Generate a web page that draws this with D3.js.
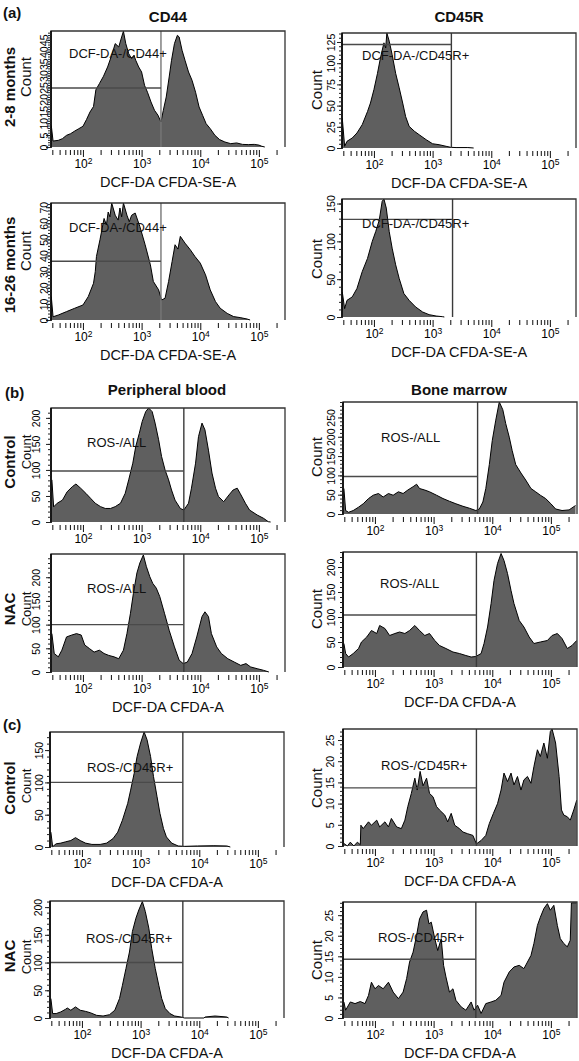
<!DOCTYPE html>
<html><head><meta charset="utf-8">
<script src="https://cdn.jsdelivr.net/npm/d3@7"></script>
<style>body{margin:0;background:#fff}svg{display:block}</style>
</head><body><svg id="c" width="579" height="1061"></svg>
<script>
// ---------- DATA (log10 fluorescence, count) ----------
const cd44Young = [[1.46,9],[1.49,2.5],[1.58,2.8],[1.65,3.5],[1.72,4.9],[1.79,5.6],[1.86,6.7],[1.93,7.7],[2.0,8.7],[2.06,11.5],[2.12,14.7],[2.18,17],[2.22,24],[2.28,26.6],[2.35,29.7],[2.42,33.6],[2.49,38.5],[2.55,43.4],[2.61,42],[2.66,46.2],[2.69,48.6],[2.73,43.4],[2.78,39.2],[2.83,37.1],[2.87,38.5],[2.9,36.4],[2.95,33.6],[3.0,31.5],[3.05,25.9],[3.1,23],[3.16,18.9],[3.22,15.4],[3.28,13.3],[3.33,10.5],[3.37,15.4],[3.42,21],[3.47,29.4],[3.51,36.4],[3.56,43.4],[3.61,46.9],[3.64,46.2],[3.69,40.6],[3.74,36.4],[3.8,31.5],[3.86,28],[3.92,23],[3.98,16.8],[4.04,13.3],[4.1,9.8],[4.17,7.7],[4.25,4.9],[4.33,3.1],[4.42,2.1],[4.52,1.4],[4.62,1.7],[4.72,1.1],[4.82,1],[4.92,1.1],[5.0,0.8],[5.05,0.3],[5.1,0]];
const cd45rYoung = [[1.46,35],[1.5,2],[1.54,7.9],[1.63,11.8],[1.71,17.7],[1.8,27.5],[1.89,43],[1.94,53],[2.0,69],[2.06,88],[2.11,106],[2.17,124],[2.2,118],[2.22,135.6],[2.26,126],[2.31,110],[2.37,88],[2.43,71],[2.49,53],[2.54,37],[2.6,25.5],[2.69,19.7],[2.77,15.7],[2.89,9.8],[3.0,5],[3.11,3.9],[3.23,2],[3.31,0.8],[3.4,0.5],[3.6,0.5],[3.7,0]];
const cd44Old = [[1.46,14.5],[1.49,2],[1.58,3.1],[1.72,5.2],[1.86,7.3],[2.0,9.3],[2.09,14.5],[2.18,22.8],[2.21,30],[2.23,39.4],[2.29,49.8],[2.36,63],[2.4,59],[2.43,67],[2.46,64],[2.49,72.6],[2.55,65],[2.6,62],[2.63,69.5],[2.66,64],[2.69,72.6],[2.75,65],[2.79,61],[2.83,65],[2.89,66.4],[2.97,58],[3.06,46.7],[3.15,34.2],[3.2,23.9],[3.29,18.7],[3.34,12.4],[3.4,13.5],[3.46,23.9],[3.52,36.3],[3.57,46.7],[3.62,44],[3.66,51.9],[3.74,47.7],[3.83,43.6],[3.91,39.4],[4.0,35.3],[4.09,28],[4.17,18.7],[4.26,11.4],[4.34,7.3],[4.46,4.1],[4.57,2.1],[4.68,1.5],[4.8,0.6],[4.85,0]];
const cd45rOld = [[1.46,33],[1.5,11],[1.54,22],[1.63,26.6],[1.71,37.7],[1.8,60],[1.89,77.5],[1.97,99.7],[2.03,113],[2.09,128],[2.14,153],[2.17,156],[2.21,144],[2.26,113],[2.31,91],[2.37,69],[2.43,51],[2.51,31],[2.6,22],[2.71,13.3],[2.83,6.6],[2.94,3.1],[3.06,1.3],[3.17,0.4],[3.2,0]];
const pbCtrlAll = [[1.47,81],[1.5,29],[1.56,36],[1.65,42],[1.73,58],[1.82,68],[1.88,73],[1.96,65],[2.05,55],[2.13,45.5],[2.21,36],[2.3,29.5],[2.38,26],[2.47,26],[2.55,29.5],[2.64,36],[2.72,55],[2.78,81],[2.85,113],[2.9,145],[2.96,170],[3.01,193],[3.07,212],[3.12,219],[3.18,212],[3.23,190],[3.29,158],[3.34,126],[3.4,100],[3.46,81],[3.51,61.5],[3.57,42],[3.66,26],[3.72,23],[3.8,36],[3.85,65],[3.92,113],[3.97,164],[4.03,190],[4.08,177],[4.14,138],[4.2,94],[4.26,65],[4.31,49],[4.4,39],[4.49,52],[4.56,61.5],[4.63,65],[4.68,55],[4.77,36],[4.84,23],[4.97,13.5],[5.08,7],[5.16,0.6],[5.2,0]];
const bmCtrlAll = [[1.47,66],[1.5,9],[1.55,4.4],[1.63,9],[1.72,17.7],[1.8,26.5],[1.89,40],[1.97,48.6],[2.06,53],[2.14,44],[2.23,53],[2.31,48.6],[2.4,57.5],[2.48,53],[2.56,62],[2.65,70.7],[2.71,77],[2.76,66],[2.85,62],[2.93,57.5],[3.05,48.6],[3.16,40],[3.27,33],[3.38,26.5],[3.5,20],[3.61,15],[3.72,9],[3.78,13],[3.84,31],[3.89,66],[3.95,128],[4.0,190],[4.06,243],[4.12,290],[4.18,270],[4.23,234],[4.29,199],[4.34,164],[4.4,128],[4.49,106],[4.57,88],[4.66,66],[4.74,57.5],[4.82,48.6],[4.91,40],[5.0,26.5],[5.08,13],[5.19,9],[5.31,10.6],[5.42,22]];
const pbNacAll = [[1.47,81],[1.51,39],[1.58,32],[1.64,46],[1.72,74],[1.81,78],[1.89,81],[1.97,78],[2.03,57],[2.11,49.5],[2.19,42],[2.28,46],[2.36,39],[2.44,35],[2.53,32],[2.61,28],[2.69,46],[2.75,81],[2.81,124],[2.86,166],[2.92,209],[2.97,230],[3.03,247],[3.08,223],[3.14,201],[3.19,187],[3.25,177],[3.31,159],[3.39,124],[3.47,88],[3.56,53],[3.64,25],[3.71,17.7],[3.78,21],[3.86,39],[3.94,74],[4.03,117],[4.08,127],[4.14,117],[4.19,81],[4.28,53],[4.36,39],[4.47,28],[4.58,21],[4.69,14],[4.78,17.7],[4.86,10.6],[4.97,7],[5.08,3.5],[5.17,0]];
const bmNacAll = [[1.47,47],[1.5,27],[1.55,20],[1.63,27],[1.72,37],[1.77,50],[1.86,60],[1.94,73],[2.03,67],[2.08,83],[2.17,77],[2.25,63],[2.34,67],[2.42,70],[2.51,67],[2.59,73],[2.68,83],[2.76,73],[2.85,63],[2.93,67],[3.02,53],[3.1,43],[3.21,37],[3.33,30],[3.44,27],[3.55,23],[3.64,20],[3.72,21],[3.81,27],[3.86,47],[3.92,80],[3.98,127],[4.03,173],[4.09,207],[4.15,227],[4.2,213],[4.26,187],[4.32,153],[4.37,127],[4.46,93],[4.54,80],[4.63,60],[4.71,47],[4.82,50],[4.94,53],[5.02,63],[5.11,67],[5.19,57],[5.28,37],[5.36,43],[5.44,53]];
const pbCtrlCd45r = [[1.47,23],[1.5,0.5],[1.56,5],[1.64,6],[1.72,8],[1.81,10],[1.89,14.5],[1.97,10],[2.06,6],[2.17,4],[2.31,4],[2.42,6],[2.53,13],[2.61,23],[2.69,41.5],[2.78,67.5],[2.83,88],[2.89,114],[2.94,140],[3.0,161],[3.06,178],[3.11,166],[3.17,140],[3.22,109],[3.28,78],[3.33,52],[3.39,28.5],[3.44,15.6],[3.53,6],[3.64,1.6],[3.75,1],[3.97,1.6],[4.25,2],[4.47,1.6],[4.53,0]];
const bmCtrlCd45r = [[1.47,0.6],[1.53,0],[1.58,0.9],[1.64,0],[1.7,0.9],[1.75,0.3],[1.76,4.9],[1.8,4.1],[1.89,5.7],[1.94,4.9],[2.03,6.1],[2.08,4.5],[2.17,5.7],[2.23,4.5],[2.28,6.5],[2.37,4.5],[2.45,4.1],[2.51,6.1],[2.56,9.3],[2.62,12.4],[2.68,16],[2.72,13.2],[2.77,17.6],[2.82,14.2],[2.88,16],[2.93,12.4],[2.99,11.6],[3.05,9.3],[3.1,8.5],[3.19,7.3],[3.24,5.7],[3.3,7.7],[3.36,4.9],[3.44,4.1],[3.5,3.3],[3.58,2.9],[3.67,2.5],[3.73,0.5],[3.81,1.3],[3.89,2.5],[3.95,5.3],[4.02,7.7],[4.09,10],[4.15,13.2],[4.2,17.2],[4.26,15.2],[4.32,17.2],[4.37,14.4],[4.43,16.4],[4.49,13.2],[4.54,15.6],[4.6,16.4],[4.66,14.8],[4.71,18.7],[4.77,22.7],[4.82,21.1],[4.88,24.3],[4.94,20.7],[4.99,27],[5.02,27.6],[5.08,24.3],[5.14,16.4],[5.18,8.5],[5.22,7.3],[5.28,6.9],[5.33,6.1],[5.39,8.5],[5.44,10.8]];
const pbNacCd45r = [[1.47,35],[1.5,8],[1.56,8],[1.64,11],[1.72,15.7],[1.75,18],[1.81,14],[1.89,20],[1.97,14],[2.06,12],[2.14,9.6],[2.25,4.8],[2.36,3.6],[2.47,6],[2.56,14],[2.64,35],[2.69,59],[2.75,89],[2.81,119],[2.86,156],[2.92,180],[2.97,195],[3.03,210],[3.08,192],[3.14,162],[3.19,125],[3.25,89],[3.31,59],[3.36,35],[3.42,17],[3.5,8],[3.58,3.6],[3.69,1.8],[3.75,0],[4.08,0],[4.1,1.8],[4.27,3.6],[4.47,1.8],[4.5,0]];
const bmNacCd45r = [[1.47,3.9],[1.5,1.9],[1.58,3.9],[1.66,3.5],[1.75,4.0],[1.83,3.5],[1.89,5.5],[1.94,8.7],[2.0,7.1],[2.06,7.9],[2.14,7.1],[2.23,8.7],[2.31,6.3],[2.4,4.7],[2.48,6.3],[2.54,9.6],[2.59,13.6],[2.65,16],[2.71,20.1],[2.76,24.1],[2.82,25.8],[2.88,26.2],[2.92,22.9],[2.96,23.3],[3.02,19.3],[3.07,16.4],[3.13,19.3],[3.17,12.8],[3.21,10],[3.27,6.3],[3.33,7.1],[3.38,4.3],[3.47,2.7],[3.55,1.9],[3.64,3.9],[3.69,1.9],[3.75,3.1],[3.81,1.1],[3.89,3.5],[3.98,3.9],[4.06,4.3],[4.15,5.5],[4.2,8.7],[4.29,11.2],[4.37,12.4],[4.46,12.8],[4.54,12],[4.6,13.6],[4.66,15.2],[4.71,18.1],[4.77,22.5],[4.82,24.5],[4.88,26.6],[4.94,27.8],[4.99,26.2],[5.05,27.4],[5.11,22.5],[5.16,19.3],[5.22,18.1],[5.28,17.3],[5.33,18.9],[5.35,28],[5.44,28]];

// tick values / labels
const xDecades = [2, 3, 4, 5];
const yTicksCd44Young = [0,5,10,15,20,25,30,35,40,45];
const yTicksCd45rYoung = [0,25,50,75,100,125];
const yTicksCd44Old = [0,10,20,30,40,50,60,70];
const yTicksCd45rOld = [0,50,100,150];
const yTicks200 = [0,50,100,150,200];
const yTicks250 = [0,50,100,150,200,250];
const yTicks150 = [0,50,100,150];
const yTicks25 = [0,5,10,15,20,25];

// gate thresholds (log10 x) and horizontal gate level (count)
const gateLogs = [3.33, 3.32, 3.33, 3.34, 3.72, 3.75, 3.72, 3.73, 3.72, 3.73, 3.72, 3.72];
const gateCounts = [24.8, 122, 36.5, 129, 98, 97, 100, 104, 100, 13.7, 100, 14.3];
const gateLabels = ["DCF-DA-/CD44+","DCF-DA-/CD45R+","DCF-DA-/CD44+","DCF-DA-/CD45R+","ROS-/ALL","ROS-/ALL","ROS-/ALL","ROS-/ALL","ROS-/CD45R+","ROS-/CD45R+","ROS-/CD45R+","ROS-/CD45R+"];
const yMaxes = [48.7, 135.6, 72.6, 156, 219, 290, 249, 230, 178, 27.6, 211, 28.2];
const yMajorSteps = [5, 25, 10, 50, 50, 50, 50, 50, 50, 5, 50, 5];
const xTitles = ["DCF-DA CFDA-SE-A","DCF-DA CFDA-SE-A","DCF-DA CFDA-SE-A","DCF-DA CFDA-SE-A","","","DCF-DA CFDA-A","DCF-DA CFDA-A","DCF-DA CFDA-A","DCF-DA CFDA-A","DCF-DA CFDA-A","DCF-DA CFDA-A"];

// ---------- LAYOUT ----------
const L = [51, 285], R = [342, 576];
const layout = [
  {col:L, top:31,  zero:147,  lx:69,  ly:53,  ylo:3,  cy:77,  cs:15},
  {col:R, top:33,  zero:148,  lx:362, ly:55,  ylo:7,  cy:90,  cs:15},
  {col:L, top:203, zero:320,  lx:69,  ly:227, ylo:3,  cy:251, cs:15},
  {col:R, top:199, zero:317,  lx:362, ly:223, ylo:7,  cy:259, cs:15},
  {col:[51,285], top:408, zero:522, lx:87, ly:442, ylo:11, cy:452, cs:13},
  {col:[343,577], top:402, zero:514, lx:381, ly:437, ylo:8, cy:457, cs:15},
  {col:[51,285], top:554, zero:672, lx:87, ly:588, ylo:11, cy:609, cs:13},
  {col:[343,577], top:552, zero:667, lx:380, ly:583, ylo:8, cy:609, cs:15},
  {col:[50,284], top:732, zero:847, lx:87, ly:767, ylo:7, cy:786, cs:13},
  {col:[343,577], top:729, zero:846, lx:381, ly:765, ylo:9, cy:788, cs:15},
  {col:[50,284], top:901, zero:1018, lx:86, ly:938, ylo:8, cy:957, cs:13},
  {col:[343,577], top:902, zero:1018, lx:378, ly:937, ylo:10, cy:960, cs:15}
];
const series = [cd44Young, cd45rYoung, cd44Old, cd45rOld, pbCtrlAll, bmCtrlAll, pbNacAll, bmNacAll, pbCtrlCd45r, bmCtrlCd45r, pbNacCd45r, bmNacCd45r];
const yTickSets = [yTicksCd44Young, yTicksCd45rYoung, yTicksCd44Old, yTicksCd45rOld, yTicks200, yTicks250, yTicks200, yTicks200, yTicks150, yTicks25, yTicks200, yTicks25];

const FONT = '"Liberation Sans", Arial, Helvetica, sans-serif';
const svg = d3.select("#c").style("font-family", FONT);
const LOGMIN = 1.455, LOGMAX = 5.445;

// minor x ticks (2..9 x decades) within domain
const minorX = [];
[1,2,3,4,5].forEach(e => { for (let m = 2; m <= 9; m++) { const v = m * Math.pow(10, e); if (Math.log10(v) > LOGMIN && Math.log10(v) < LOGMAX) minorX.push(v); } });

series.forEach((data, i) => {
  const lay = layout[i];
  const x0 = lay.col[0], x1 = lay.col[1];
  const x = d3.scaleLog().domain([Math.pow(10, LOGMIN), Math.pow(10, LOGMAX)]).range([x0, x1]);
  const y = d3.scaleLinear().domain([0, yMaxes[i]]).range([lay.zero, lay.top]);
  const g = svg.append("g");
  const cid = "clip" + i;
  svg.append("clipPath").attr("id", cid).append("rect")
    .attr("x", x0).attr("y", lay.top).attr("width", x1 - x0).attr("height", lay.zero - lay.top + 1);

  const px = d => x(Math.pow(10, d[0]));
  g.append("path").datum(data)
    .attr("d", d3.area().x(px).y0(lay.zero).y1(d => y(d[1])))
    .attr("fill", "#5f5f5f").attr("clip-path", `url(#${cid})`);
  g.append("path").datum(data)
    .attr("d", d3.line().x(px).y(d => y(d[1])))
    .attr("fill", "none").attr("stroke", "#000").attr("stroke-width", 1)
    .attr("stroke-linejoin", "round").attr("clip-path", `url(#${cid})`);

  // gates
  const gx = x(Math.pow(10, gateLogs[i]));
  g.append("line").attr("x1", gx).attr("x2", gx).attr("y1", lay.top).attr("y2", lay.zero)
    .attr("stroke", i === 0 || i === 2 ? "#777" : "#3a3a3a").attr("stroke-width", 1.4);
  g.append("line").attr("x1", x0).attr("x2", gx).attr("y1", y(gateCounts[i])).attr("y2", y(gateCounts[i]))
    .attr("stroke", "#4a4a4a").attr("stroke-width", 1.4);

  // frame (left, top, right)
  g.append("path").attr("d", `M${x0},${lay.zero}V${lay.top}H${x1}V${lay.zero}`)
    .attr("fill", "none").attr("stroke", "#333").attr("stroke-width", 1.3);
  g.append("line").attr("x1", x0).attr("x2", x0).attr("y1", lay.top).attr("y2", lay.zero + 1)
    .attr("stroke", "#000").attr("stroke-width", 1.6);

  // gate label
  g.append("text").attr("x", lay.lx).attr("y", lay.ly).attr("dy", "0.36em")
    .attr("font-size", 13).attr("fill", "#111").text(gateLabels[i]);

  // y axis
  const step = yMajorSteps[i], minorStep = step / 5;
  const yMinor = d3.range(0, yMaxes[i] + 1e-9, minorStep);
  const ayMin = g.append("g").attr("transform", `translate(${x0},0)`)
    .call(d3.axisLeft(y).tickValues(yMinor).tickSize(3).tickFormat(""));
  const ay = g.append("g").attr("transform", `translate(${x0},0)`)
    .call(d3.axisLeft(y).tickValues(yTickSets[i]).tickSize(5).tickFormat(d3.format("d")));
  [ayMin, ay].forEach(a => { a.select(".domain").remove(); a.selectAll("line").attr("stroke", "#222"); });
  ay.selectAll("text")
    .attr("x", null).attr("dy", null).attr("y", null)
    .attr("text-anchor", "middle")
    .attr("transform", `translate(${-lay.ylo},0) rotate(-90)`)
    .attr("font-size", 10.5).attr("font-family", FONT).attr("fill", "#000");

  // x axis
  const axMin = g.append("g").attr("transform", `translate(0,${lay.zero + 3})`)
    .call(d3.axisBottom(x).tickValues(minorX).tickSize(5).tickFormat(""));
  const ax = g.append("g").attr("transform", `translate(0,${lay.zero + 3})`)
    .call(d3.axisBottom(x).tickValues(xDecades.map(e => Math.pow(10, e))).tickSize(7));
  [axMin, ax].forEach(a => { a.select(".domain").remove(); a.selectAll("line").attr("stroke", "#222").attr("stroke-width", 1.1); });
  ax.selectAll("text").each(function(d) {
    const t = d3.select(this);
    t.text(null).attr("y", 18).attr("dy", null).attr("font-size", 12).attr("font-family", FONT).attr("fill", "#000");
    t.append("tspan").text("10");
    t.append("tspan").attr("dy", "-0.45em").attr("font-size", 8.5).text(String(Math.round(Math.log10(d))));
  });

  // x title
  if (xTitles[i]) {
    g.append("text").attr("x", (x0 + x1) / 2).attr("y", lay.zero + 40)
      .attr("text-anchor", "middle").attr("font-size", 14.5).attr("fill", "#111").text(xTitles[i]);
  }
  // Count label
  const cx = x0 < 200 ? 26 : 317;
  g.append("text").attr("transform", `translate(${cx},${lay.cy}) rotate(-90)`)
    .attr("text-anchor", "middle").attr("dy", "0.36em").attr("font-size", lay.cs).attr("fill", "#111").text("Count");
});

// row labels, section labels, column titles
const rowLabels = [["2-8 months", 87], ["16-26 months", 265], ["Control", 462], ["NAC", 609], ["Control", 788], ["NAC", 956]];
rowLabels.forEach(([t, cy]) => {
  svg.append("text").attr("transform", `translate(10,${cy}) rotate(-90)`)
    .attr("text-anchor", "middle").attr("dy", "0.36em")
    .attr("font-size", 15).attr("font-weight", "bold").attr("fill", "#111").text(t);
});
const sectionLabels = [["(a)", 3, 18], ["(b)", 5, 398], ["(c)", 3, 730]];
sectionLabels.forEach(([t, xx, yy]) => {
  svg.append("text").attr("x", xx).attr("y", yy).attr("font-size", 15).attr("font-weight", "bold").attr("fill", "#111").text(t);
});
const colTitles = [["CD44", 168, 22], ["CD45R", 459, 22], ["Peripheral blood", 167, 395], ["Bone marrow", 459, 395]];
colTitles.forEach(([t, xx, yy]) => {
  svg.append("text").attr("x", xx).attr("y", yy).attr("text-anchor", "middle")
    .attr("font-size", 15).attr("font-weight", "bold").attr("fill", "#111").text(t);
});
</script>
</body></html>
